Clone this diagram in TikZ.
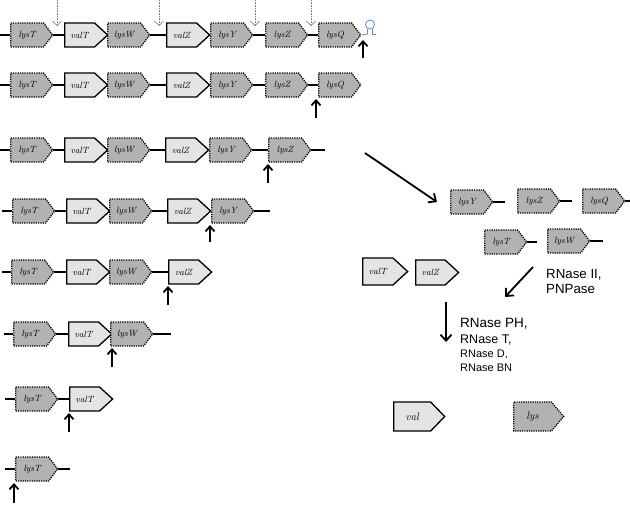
\documentclass[tikz,border=0pt]{standalone}
\usepackage{fontspec}
\newfontfamily\arialf{Liberation Sans}
\usetikzlibrary{shapes.symbols,arrows.meta}
\definecolor{lysgray}{RGB}{178,178,178}
\definecolor{valgray}{RGB}{228,228,228}
\definecolor{termblue}{RGB}{90,135,205}
\begin{document}
\begin{tikzpicture}[x=1pt,y=-1pt,
  gene/.style={signal, signal to=east, anchor=west, minimum height=24pt, inner sep=0pt,
    font=\fontsize{9}{10}\selectfont\itshape},
  lys/.style={gene, fill=lysgray, draw=black, line width=1.3pt, dash pattern=on 1.2pt off 1.1pt,
    signal pointer angle=106, minimum width=42pt},
  val/.style={gene, fill=valgray, draw=black, line width=1.3pt, signal pointer angle=85, minimum width=43pt},
  link/.style={line width=1.3pt},
  cut/.style={line width=1.8pt, -{Straight Barb[length=5pt,width=9pt]}},
  site/.style={draw=gray, line width=0.7pt, dash pattern=on 0.8pt off 0.8pt, -{Straight Barb[length=4.5pt,width=9pt,line width=0.7pt]}},
  bigarrow/.style={line width=1.8pt, -{Straight Barb[length=6pt,width=11pt]}},
  lab/.style={anchor=base west, inner sep=0pt}
]
\useasboundingbox (0,0) rectangle (630,507);

% ---------- row 1 ----------
\coordinate (r1s) at (0,35);
\node[lys] (r1lysT) at (10,35) {lysT};
\node[val] (r1valT) at (64,35) {valT};
\node[lys] (r1lysW) at (107,35) {lysW};
\node[val] (r1valZ) at (166,35) {valZ};
\node[lys] (r1lysY) at (210,35) {lysY};
\node[lys] (r1lysZ) at (265,35) {lysZ};
\node[lys] (r1lysQ) at (318,35) {lysQ};
\draw[link] (r1s) -- (r1lysT.west);
\draw[link] (r1lysT.east) -- (r1valT.west);
\draw[link] (r1lysW.east) -- (r1valZ.west);
\draw[link] (r1lysY.east) -- (r1lysZ.west);
\draw[link] (r1lysZ.east) -- (r1lysQ.west);
% terminator
\coordinate (term) at (367.5,34);
\draw[termblue, line width=0.8pt] (r1lysQ.east) -- (term) -- (367.5,29);
\draw[termblue, line width=0.8pt] (370,24.5) circle[radius=4.5];
\draw[termblue, line width=0.8pt] (372.5,29) -- (372.5,34) -- (376,34);
% processing sites
\foreach \i/\xx in {a/57,b/159,c/255,d/311}{
  \coordinate (s\i1) at (\xx,0);
  \coordinate (s\i2) at (\xx,26);
  \draw[site] (s\i1) -- (s\i2);
}
\coordinate (c1a) at (363,58);
\coordinate (c1b) at (363,40);
\draw[cut] (c1a) -- (c1b);

% ---------- row 2 ----------
\coordinate (r2s) at (0,85);
\node[lys] (r2lysT) at (10,85) {lysT};
\node[val] (r2valT) at (64,85) {valT};
\node[lys] (r2lysW) at (107,85) {lysW};
\node[val] (r2valZ) at (166,85) {valZ};
\node[lys] (r2lysY) at (210,85) {lysY};
\node[lys] (r2lysZ) at (265,85) {lysZ};
\node[lys] (r2lysQ) at (318,85) {lysQ};
\draw[link] (r2s) -- (r2lysT.west);
\draw[link] (r2lysT.east) -- (r2valT.west);
\draw[link] (r2lysW.east) -- (r2valZ.west);
\draw[link] (r2lysY.east) -- (r2lysZ.west);
\draw[link] (r2lysZ.east) -- (r2lysQ.west);
\coordinate (c2a) at (316,118);
\coordinate (c2b) at (316,99);
\draw[cut] (c2a) -- (c2b);

% ---------- row 3 ----------
\coordinate (r3s) at (0,150);
\node[lys] (r3lysT) at (10,150) {lysT};
\node[val] (r3valT) at (64,150) {valT};
\node[lys] (r3lysW) at (107,150) {lysW};
\node[val] (r3valZ) at (165,150) {valZ};
\node[lys] (r3lysY) at (209,150) {lysY};
\node[lys] (r3lysZ) at (268,150) {lysZ};
\coordinate (r3e) at (325,150);
\draw[link] (r3s) -- (r3lysT.west);
\draw[link] (r3lysT.east) -- (r3valT.west);
\draw[link] (r3lysW.east) -- (r3valZ.west);
\draw[link] (r3lysY.east) -- (r3lysZ.west);
\draw[link] (r3lysZ.east) -- (r3e);
\coordinate (c3a) at (268,183);
\coordinate (c3b) at (268,164);
\draw[cut] (c3a) -- (c3b);

% ---------- row 4 ----------
\coordinate (r4s) at (2,211);
\node[lys] (r4lysT) at (12,211) {lysT};
\node[val] (r4valT) at (66,211) {valT};
\node[lys] (r4lysW) at (109,211) {lysW};
\node[val] (r4valZ) at (167,211) {valZ};
\node[lys] (r4lysY) at (211,211) {lysY};
\coordinate (r4e) at (270,211);
\draw[link] (r4s) -- (r4lysT.west);
\draw[link] (r4lysT.east) -- (r4valT.west);
\draw[link] (r4lysW.east) -- (r4valZ.west);
\draw[link] (r4lysY.east) -- (r4e);
\coordinate (c4a) at (210,242);
\coordinate (c4b) at (210,225);
\draw[cut] (c4a) -- (c4b);

% ---------- row 5 ----------
\coordinate (r5s) at (2,272);
\node[lys] (r5lysT) at (11,272) {lysT};
\node[val] (r5valT) at (66,272) {valT};
\node[lys] (r5lysW) at (109,272) {lysW};
\node[val] (r5valZ) at (168,272) {valZ};
\draw[link] (r5s) -- (r5lysT.west);
\draw[link] (r5lysT.east) -- (r5valT.west);
\draw[link] (r5lysW.east) -- (r5valZ.west);
\coordinate (c5a) at (168,305);
\coordinate (c5b) at (168,286);
\draw[cut] (c5a) -- (c5b);

% ---------- row 6 ----------
\coordinate (r6s) at (4,334);
\node[lys] (r6lysT) at (13,334) {lysT};
\node[val] (r6valT) at (68,334) {valT};
\node[lys] (r6lysW) at (110,334) {lysW};
\coordinate (r6e) at (171,334);
\draw[link] (r6s) -- (r6lysT.west);
\draw[link] (r6lysT.east) -- (r6valT.west);
\draw[link] (r6lysW.east) -- (r6e);
\coordinate (c6a) at (112,367);
\coordinate (c6b) at (112,348);
\draw[cut] (c6a) -- (c6b);

% ---------- row 7 ----------
\coordinate (r7s) at (5,399);
\node[lys] (r7lysT) at (15,399) {lysT};
\node[val] (r7valT) at (69,399) {valT};
\draw[link] (r7s) -- (r7lysT.west);
\draw[link] (r7lysT.east) -- (r7valT.west);
\coordinate (c7a) at (69,432);
\coordinate (c7b) at (69,413);
\draw[cut] (c7a) -- (c7b);

% ---------- row 8 ----------
\coordinate (r8s) at (5,469);
\node[lys] (r8lysT) at (15,469) {lysT};
\coordinate (r8e) at (70,469);
\draw[link] (r8s) -- (r8lysT.west);
\draw[link] (r8lysT.east) -- (r8e);
\coordinate (c8a) at (14,503);
\coordinate (c8b) at (14,483);
\draw[cut] (c8a) -- (c8b);

% ---------- released products ----------
\coordinate (ba) at (365,153);
\coordinate (bb) at (437,202);
\draw[bigarrow] (ba) -- (bb);

\node[lys] (plysY) at (450,202) {lysY};
\node[lys] (plysZ) at (517,201) {lysZ};
\node[lys] (plysQ) at (582,201) {lysQ};
\node[lys] (plysT) at (484,242) {lysT};
\node[lys] (plysW) at (547,241) {lysW};
\coordinate (tY) at (505,202);
\coordinate (tZ) at (572,201);
\coordinate (tQ) at (630,201);
\coordinate (tT) at (537,242);
\coordinate (tW) at (603,241);
\draw[link] (plysY.east) -- (tY);
\draw[link] (plysZ.east) -- (tZ);
\draw[link] (plysQ.east) -- (tQ);
\draw[link] (plysT.east) -- (tT);
\draw[link] (plysW.east) -- (tW);

\node[val, minimum width=45pt, minimum height=27pt] (pvalT) at (362,271.5) {valT};
\node[val, minimum height=25pt] (pvalZ) at (415,272.5) {valZ};

\coordinate (ra) at (533,267);
\coordinate (rb) at (505,297);
\draw[bigarrow] (ra) -- (rb);
\node[lab, font=\arialf\fontsize{13.3}{15}\selectfont] (rn2) at (546,278) {RNase II,};
\node[lab, font=\arialf\fontsize{13.3}{15}\selectfont] (pnp) at (546,293) {PNPase};

\coordinate (da) at (446,302);
\coordinate (db) at (446,342);
\draw[bigarrow] (da) -- (db);
\node[lab, font=\arialf\fontsize{13.5}{15}\selectfont] (rnPH) at (460,327) {RNase PH,};
\node[lab, font=\arialf\fontsize{12.5}{14}\selectfont] (rnT) at (460,343) {RNase T,};
\node[lab, font=\arialf\fontsize{11}{12}\selectfont] (rnD) at (460,357) {RNase D,};
\node[lab, font=\arialf\fontsize{11}{12}\selectfont] (rnBN) at (460,371) {RNase BN};

\node[val, minimum width=51pt, minimum height=29pt, signal pointer angle=92,
  font=\fontsize{11}{12}\selectfont\itshape] (fval) at (393,416.5) {val};
\node[lys, minimum width=50pt, minimum height=29pt, signal pointer angle=100,
  font=\fontsize{11}{12}\selectfont\itshape] (flys) at (513,416.5) {lys};
\end{tikzpicture}
\end{document}
